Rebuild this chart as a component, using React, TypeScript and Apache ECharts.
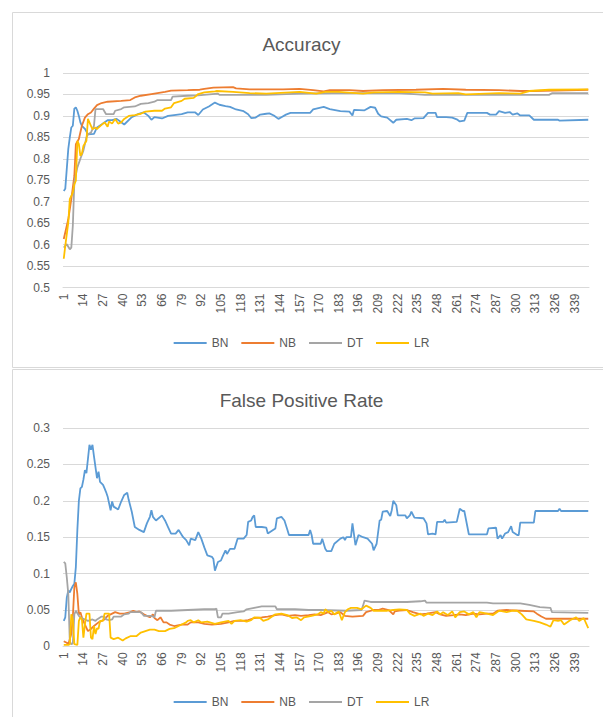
import React, { useEffect, useRef } from "react";
import * as echarts from "echarts";

const categories: string[] = Array.from({ length: 348 }, (_, k) => String(k + 1));
const seriesNames = ["BN", "NB", "DT", "LR"];
const colors = ["#5B9BD5", "#ED7D31", "#A5A5A5", "#FFC000"];

const accBN: number[][] = [[1,0.725],[2,0.73],[4,0.823],[5,0.85],[6,0.873],[7,0.877],[8,0.917],[9,0.92],[10,0.912],[11,0.9],[12,0.885],[13,0.877],[15,0.87],[17,0.857],[21,0.858],[23,0.873],[26,0.88],[30,0.89],[33,0.89],[36,0.893],[39,0.885],[41,0.88],[46,0.897],[50,0.904],[54,0.908],[57,0.9],[59,0.891],[61,0.897],[66,0.894],[70,0.9],[74,0.902],[79,0.904],[83,0.908],[88,0.908],[90,0.902],[93,0.915],[97,0.922],[101,0.931],[104,0.926],[108,0.923],[111,0.921],[115,0.915],[120,0.911],[123,0.904],[125,0.895],[128,0.896],[131,0.903],[135,0.905],[137,0.906],[140,0.901],[143,0.893],[145,0.897],[148,0.903],[151,0.907],[164,0.907],[166,0.915],[173,0.921],[177,0.916],[184,0.911],[190,0.91],[192,0.901],[193,0.914],[200,0.913],[204,0.921],[207,0.919],[209,0.905],[211,0.899],[215,0.896],[219,0.884],[221,0.891],[228,0.893],[231,0.89],[233,0.894],[239,0.895],[242,0.907],[247,0.907],[248,0.897],[254,0.897],[258,0.896],[261,0.892],[263,0.887],[266,0.889],[268,0.907],[281,0.907],[283,0.903],[287,0.903],[289,0.911],[293,0.907],[296,0.909],[298,0.903],[301,0.906],[303,0.901],[309,0.901],[312,0.891],[328,0.891],[329,0.889],[348,0.891]];
const accNB: number[][] = [[1,0.613],[4,0.659],[6,0.706],[8,0.76],[9,0.834],[11,0.846],[13,0.877],[15,0.896],[17,0.904],[19,0.908],[21,0.917],[23,0.925],[26,0.93],[30,0.933],[39,0.935],[45,0.937],[48,0.943],[52,0.947],[59,0.951],[68,0.956],[72,0.959],[83,0.96],[91,0.961],[94,0.963],[100,0.966],[113,0.967],[115,0.964],[124,0.962],[146,0.962],[157,0.963],[166,0.96],[173,0.957],[177,0.96],[190,0.96],[199,0.958],[212,0.96],[234,0.961],[252,0.963],[267,0.961],[289,0.96],[303,0.958],[311,0.958],[348,0.961]];
const accDT: number[][] = [[1,0.593],[3,0.601],[5,0.589],[6,0.593],[7,0.644],[8,0.745],[10,0.78],[12,0.8],[14,0.819],[16,0.85],[17,0.857],[19,0.861],[21,0.877],[22,0.916],[27,0.916],[29,0.904],[34,0.904],[35,0.912],[39,0.916],[41,0.92],[48,0.922],[52,0.928],[57,0.93],[61,0.933],[63,0.937],[72,0.937],[73,0.945],[83,0.947],[90,0.948],[103,0.952],[104,0.949],[135,0.949],[157,0.952],[179,0.953],[223,0.953],[240,0.949],[303,0.949],[322,0.949],[324,0.953],[348,0.953]];
const accLR: number[][] = [[1,0.567],[2,0.597],[4,0.651],[5,0.706],[7,0.721],[8,0.74],[9,0.749],[10,0.842],[11,0.834],[12,0.807],[13,0.812],[14,0.83],[16,0.842],[17,0.893],[18,0.885],[19,0.877],[20,0.869],[22,0.873],[23,0.869],[24,0.873],[26,0.879],[28,0.885],[30,0.875],[31,0.887],[33,0.882],[35,0.893],[37,0.882],[39,0.885],[41,0.893],[44,0.9],[48,0.902],[52,0.905],[55,0.91],[61,0.912],[66,0.912],[68,0.917],[72,0.92],[74,0.93],[79,0.935],[81,0.94],[87,0.942],[90,0.951],[94,0.955],[101,0.957],[102,0.958],[113,0.956],[124,0.953],[135,0.952],[157,0.956],[168,0.952],[174,0.956],[183,0.956],[199,0.952],[206,0.955],[223,0.956],[240,0.955],[245,0.952],[262,0.953],[267,0.95],[289,0.953],[303,0.952],[309,0.958],[322,0.961],[348,0.962]];

const fprBN: number[][] = [[1,0.035],[2,0.04],[3,0.067],[4,0.077],[5,0.074],[6,0.079],[7,0.083],[8,0.086],[9,0.109],[10,0.16],[11,0.2],[12,0.217],[13,0.219],[14,0.229],[15,0.242],[16,0.238],[18,0.277],[19,0.27],[20,0.277],[21,0.261],[23,0.231],[24,0.24],[25,0.226],[27,0.222],[28,0.217],[29,0.212],[30,0.206],[32,0.187],[33,0.199],[34,0.192],[37,0.188],[39,0.199],[41,0.208],[43,0.211],[44,0.201],[46,0.185],[48,0.164],[51,0.16],[54,0.157],[56,0.169],[58,0.178],[59,0.187],[60,0.178],[62,0.173],[66,0.18],[68,0.173],[70,0.164],[72,0.155],[75,0.155],[77,0.16],[80,0.15],[82,0.146],[84,0.139],[85,0.148],[88,0.146],[90,0.157],[92,0.148],[94,0.136],[96,0.125],[99,0.123],[100,0.12],[101,0.104],[103,0.116],[105,0.118],[106,0.123],[108,0.132],[109,0.127],[111,0.134],[114,0.134],[116,0.148],[120,0.148],[122,0.153],[123,0.171],[125,0.173],[126,0.178],[127,0.18],[128,0.164],[132,0.164],[135,0.163],[136,0.155],[141,0.162],[142,0.176],[145,0.178],[147,0.173],[149,0.16],[150,0.153],[163,0.153],[164,0.16],[165,0.153],[166,0.141],[171,0.141],[172,0.148],[174,0.134],[175,0.131],[178,0.131],[180,0.141],[184,0.148],[186,0.15],[187,0.146],[188,0.15],[191,0.15],[192,0.169],[194,0.139],[196,0.153],[199,0.15],[202,0.148],[205,0.141],[206,0.132],[208,0.141],[210,0.173],[211,0.174],[212,0.185],[215,0.186],[217,0.179],[218,0.187],[219,0.2],[221,0.194],[222,0.18],[227,0.18],[228,0.176],[230,0.18],[231,0.185],[233,0.177],[239,0.176],[241,0.169],[242,0.154],[245,0.155],[247,0.154],[248,0.171],[252,0.171],[253,0.174],[254,0.17],[261,0.171],[263,0.189],[265,0.186],[266,0.186],[269,0.154],[281,0.154],[282,0.162],[287,0.163],[288,0.148],[290,0.153],[291,0.148],[293,0.155],[295,0.157],[297,0.165],[298,0.157],[301,0.153],[302,0.153],[303,0.17],[312,0.17],[313,0.186],[328,0.186],[329,0.189],[330,0.186],[348,0.186]];
const fprNB: number[][] = [[1,0.007],[3,0.005],[4,0.003],[6,0.017],[7,0.04],[8,0.081],[9,0.088],[10,0.072],[11,0.044],[12,0.047],[13,0.04],[15,0.03],[17,0.021],[19,0.024],[21,0.028],[24,0.033],[26,0.035],[28,0.037],[30,0.042],[33,0.045],[35,0.047],[38,0.045],[41,0.045],[45,0.047],[47,0.049],[49,0.047],[51,0.048],[54,0.044],[56,0.042],[58,0.04],[60,0.044],[61,0.039],[63,0.036],[65,0.04],[67,0.033],[69,0.033],[71,0.03],[74,0.028],[79,0.03],[83,0.03],[85,0.033],[90,0.033],[94,0.031],[99,0.03],[105,0.031],[110,0.033],[114,0.035],[119,0.035],[123,0.036],[127,0.039],[132,0.04],[136,0.041],[141,0.043],[145,0.044],[149,0.042],[154,0.043],[158,0.042],[163,0.043],[167,0.044],[171,0.043],[176,0.047],[178,0.044],[181,0.045],[184,0.047],[187,0.042],[192,0.041],[199,0.042],[201,0.047],[206,0.05],[209,0.05],[212,0.052],[216,0.05],[219,0.044],[220,0.048],[223,0.049],[228,0.05],[232,0.047],[237,0.044],[241,0.045],[247,0.047],[250,0.044],[254,0.042],[259,0.043],[263,0.044],[267,0.043],[272,0.045],[276,0.044],[281,0.045],[285,0.045],[288,0.049],[294,0.05],[303,0.049],[312,0.048],[314,0.045],[317,0.041],[320,0.038],[348,0.038]];
const fprDT: number[][] = [[1,0.116],[2,0.114],[3,0.095],[4,0.072],[5,0.007],[6,0.003],[7,0.004],[8,0.044],[9,0.049],[11,0.042],[12,0.04],[14,0.038],[17,0.035],[20,0.037],[22,0.035],[23,0.037],[26,0.041],[28,0.041],[29,0.037],[31,0.036],[33,0.037],[34,0.041],[39,0.041],[41,0.044],[44,0.045],[45,0.047],[52,0.047],[53,0.045],[54,0.042],[59,0.042],[61,0.04],[62,0.049],[72,0.049],[83,0.05],[94,0.051],[101,0.051],[102,0.052],[103,0.04],[105,0.04],[106,0.045],[110,0.045],[116,0.047],[120,0.048],[122,0.051],[127,0.053],[132,0.055],[141,0.055],[142,0.051],[154,0.051],[163,0.05],[171,0.05],[188,0.049],[198,0.05],[199,0.056],[200,0.063],[204,0.061],[215,0.061],[228,0.061],[237,0.062],[240,0.063],[241,0.06],[259,0.06],[281,0.06],[285,0.059],[303,0.059],[309,0.057],[316,0.054],[323,0.053],[324,0.047],[348,0.046]];
const fprLR: number[][] = [[1,0.002],[4,0.002],[5,0.003],[6,0.044],[7,0.037],[8,0.003],[10,0.002],[11,0.035],[12,0.04],[13,0.037],[14,0.012],[15,0.03],[16,0.045],[18,0.045],[19,0.012],[20,0.01],[21,0.028],[22,0.017],[23,0.025],[24,0.024],[25,0.035],[27,0.035],[28,0.045],[31,0.045],[32,0.012],[34,0.01],[37,0.012],[40,0.008],[42,0.011],[45,0.014],[49,0.014],[52,0.019],[55,0.021],[58,0.023],[61,0.023],[64,0.021],[68,0.021],[71,0.024],[74,0.025],[79,0.03],[82,0.033],[83,0.035],[85,0.036],[87,0.033],[90,0.036],[92,0.033],[96,0.034],[101,0.031],[105,0.033],[110,0.035],[112,0.031],[114,0.035],[118,0.036],[122,0.034],[125,0.036],[127,0.04],[131,0.039],[133,0.035],[136,0.037],[141,0.044],[145,0.045],[149,0.043],[152,0.039],[155,0.04],[158,0.036],[160,0.04],[165,0.042],[169,0.044],[171,0.047],[173,0.045],[174,0.051],[176,0.047],[178,0.049],[180,0.044],[183,0.048],[185,0.036],[187,0.047],[189,0.051],[191,0.053],[195,0.053],[198,0.051],[201,0.056],[204,0.053],[206,0.049],[215,0.049],[219,0.05],[223,0.051],[228,0.05],[230,0.045],[233,0.042],[237,0.045],[239,0.042],[242,0.045],[245,0.043],[248,0.048],[250,0.044],[252,0.047],[255,0.043],[258,0.048],[260,0.04],[263,0.047],[266,0.048],[269,0.044],[272,0.047],[274,0.04],[276,0.047],[281,0.045],[285,0.043],[289,0.049],[294,0.047],[298,0.049],[301,0.049],[304,0.044],[307,0.037],[312,0.035],[316,0.033],[320,0.03],[323,0.027],[325,0.036],[328,0.035],[330,0.036],[332,0.03],[336,0.036],[340,0.04],[342,0.035],[345,0.039],[348,0.025]];

const accData = [accBN, accNB, accDT, accLR];
const fprData = [fprBN, fprNB, fprDT, fprLR];

const FONT = "'Liberation Sans', Arial, sans-serif";
const TEXT = "#595959";
const GRIDC = "#d9d9d9";

export default function App() {
  const ref = useRef<HTMLDivElement>(null);
  useEffect(() => {
    if (!ref.current) return;
    const chart = echarts.init(ref.current, undefined, { renderer: "svg" });
    const catAxis = (gridIndex: number) => ({
      type: "category",
      gridIndex,
      data: categories,
      boundaryGap: true,
      axisLine: { show: true, lineStyle: { color: GRIDC, width: 1 } },
      axisTick: { show: false },
      splitLine: { show: false },
      axisLabel: { interval: 12, rotate: 90, fontSize: 12, color: TEXT, margin: 6, fontFamily: FONT },
    });
    const valX = (gridIndex: number) => ({ type: "value", gridIndex, min: 0.5, max: 348.5, show: false, splitLine: { show: false } });
    const yAx = (gridIndex: number, min: number, max: number) => ({
      type: "value",
      gridIndex,
      min,
      max,
      interval: 0.05,
      axisLine: { show: false },
      axisTick: { show: false },
      splitLine: { lineStyle: { color: GRIDC, width: 1 } },
      axisLabel: { fontSize: 12, color: TEXT, margin: 13, fontFamily: FONT },
    });
    const mkSeries = (data: number[][][], xi: number, yi: number) =>
      data.map((d, k) => ({
        name: seriesNames[k],
        type: "line",
        xAxisIndex: xi,
        yAxisIndex: yi,
        data: d,
        symbol: "none",
        showSymbol: false,
        lineStyle: { color: colors[k], width: 1.8 },
        itemStyle: { color: colors[k] },
        z: 2 + k,
      }));
    const legend = (top: number) => ({
      top,
      left: "center",
      data: seriesNames,
      icon: "rect",
      itemWidth: 33,
      itemHeight: 2,
      itemGap: 13,
      padding: 0,
      textStyle: { color: TEXT, fontSize: 12, fontFamily: FONT },
    });
    chart.setOption({
      animation: false,
      backgroundColor: "#ffffff",
      color: colors,
      title: [
        { text: "Accuracy", left: "center", top: 30, textStyle: { fontSize: 19, fontWeight: "normal", color: TEXT, fontFamily: FONT } },
        { text: "False Positive Rate", left: "center", top: 386, textStyle: { fontSize: 19, fontWeight: "normal", color: TEXT, fontFamily: FONT } },
      ],
      legend: [legend(337), legend(696)],
      grid: [
        { left: 63, right: 14, top: 73, bottom: 429.5 },
        { left: 63, right: 14, top: 428, bottom: 70.6 },
      ],
      xAxis: [catAxis(0), valX(0), catAxis(1), valX(1)],
      yAxis: [yAx(0, 0.5, 1), yAx(1, 0, 0.3)],
      graphic: [
        { type: "rect", shape: { x: 12.5, y: 12.5, width: 640, height: 355 }, style: { fill: "none", stroke: GRIDC, lineWidth: 1 }, z: -1 },
        { type: "rect", shape: { x: 12.5, y: 369.5, width: 640, height: 400 }, style: { fill: "none", stroke: GRIDC, lineWidth: 1 }, z: -1 },
      ],
      series: [...mkSeries(accData, 1, 0), ...mkSeries(fprData, 3, 1)],
    });
    return () => chart.dispose();
  }, []);
  return <div ref={ref} style={{ position: "fixed", left: 0, top: 0, width: 603, height: 717 }} />;
}
